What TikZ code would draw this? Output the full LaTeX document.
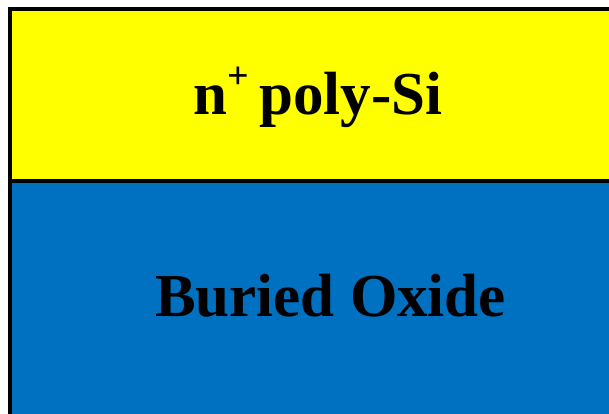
\documentclass[tikz,border=0pt]{standalone}
\usepackage{fontspec}
\setmainfont{Liberation Serif}
\definecolor{polyyellow}{HTML}{FFFF00}
\definecolor{oxideblue}{HTML}{0070C0}
\begin{document}
\begin{tikzpicture}[x=1pt,y=-1pt,
  layer/.style={draw=black,line width=4pt},
  label/.style={font=\fontsize{61}{63}\selectfont\bfseries,anchor=base,inner sep=0pt}]
\useasboundingbox (0,0) rectangle (609,414);
\clip (0,0) rectangle (609,414);
\fill[white] (0,0) rectangle (609,414);
\draw[layer,fill=oxideblue] (10,180.5) rectangle (640,440);
\draw[layer,fill=polyyellow] (10,9) rectangle (640,180.5);
\node[label] (poly) at (318,115) {n\raisebox{26pt}{\fontsize{38}{38}\selectfont +}\hspace{10pt}poly-Si};
\node[label] (oxide) at (330.5,316) {Buried Oxide};
\end{tikzpicture}
\end{document}
